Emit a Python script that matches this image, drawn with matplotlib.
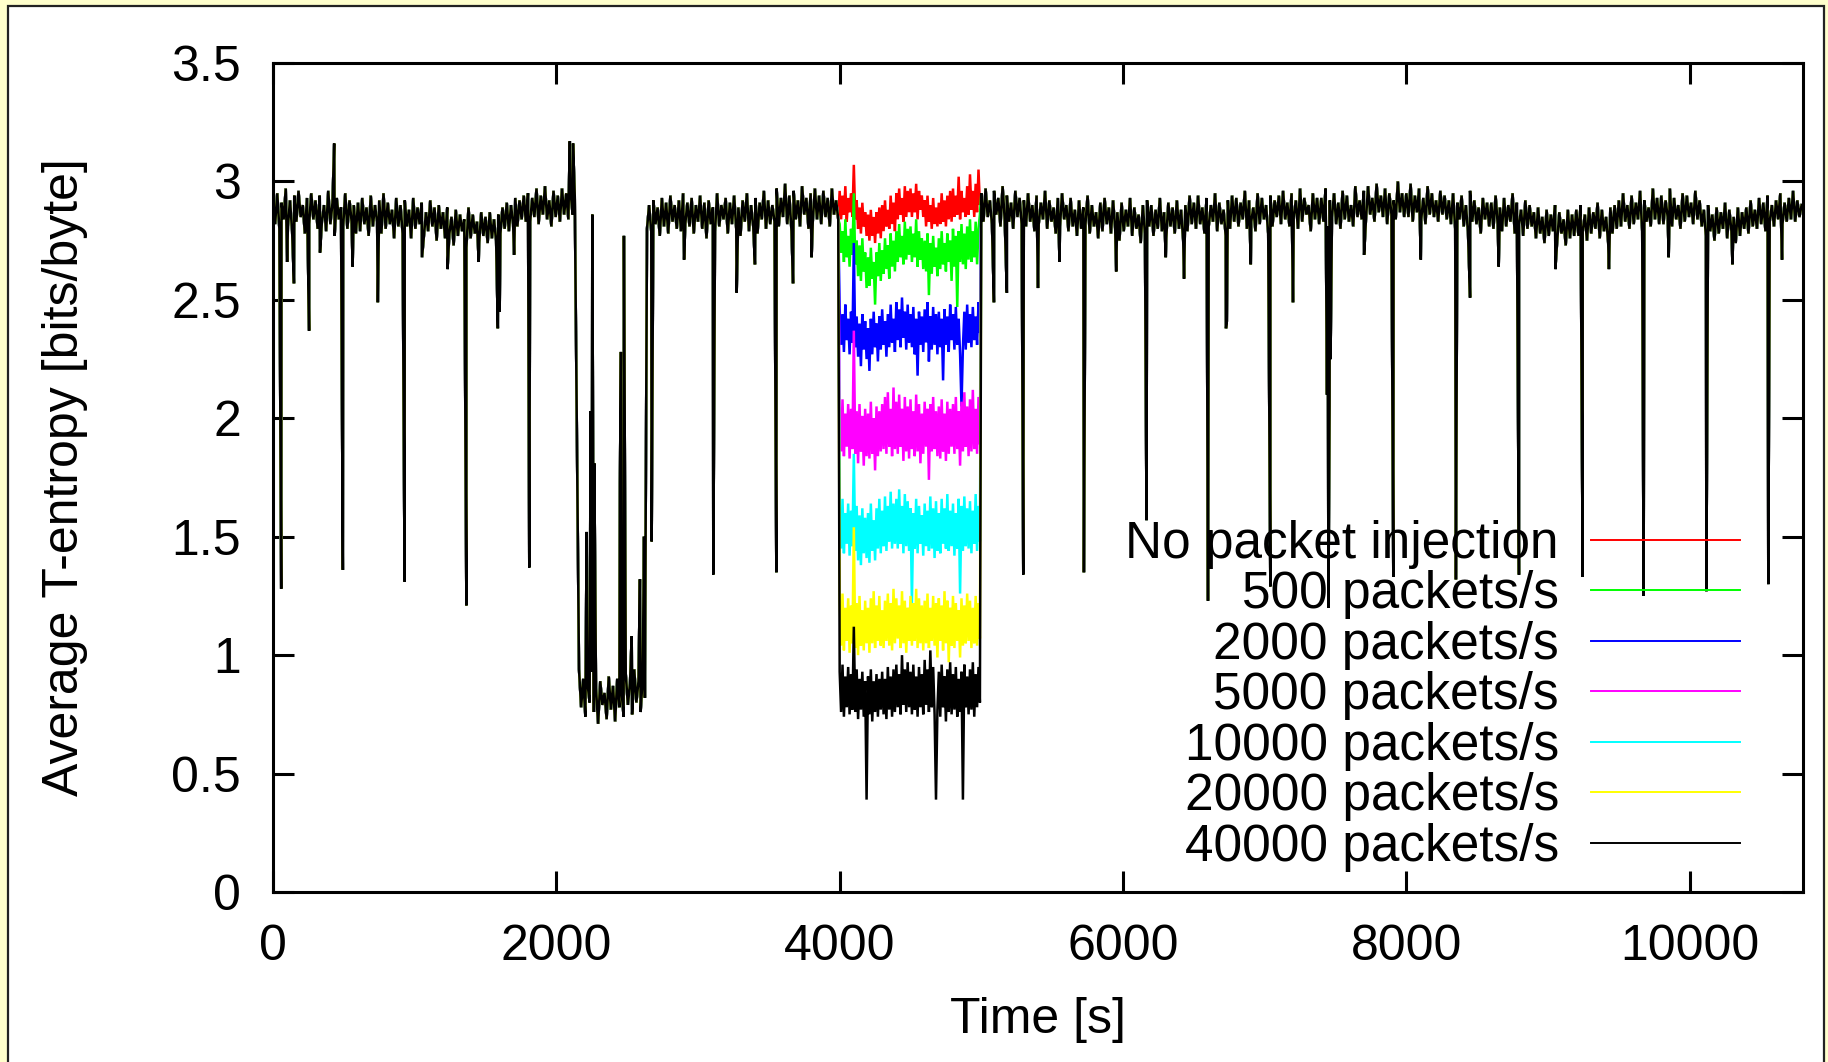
import matplotlib
matplotlib.use("Agg")
import matplotlib.pyplot as plt
from matplotlib.patches import Rectangle
import matplotlib.transforms as mtransforms

plt.rcParams['font.family'] = ['Liberation Sans', 'DejaVu Sans']

# ---------------- data ----------------
# shared trace (all series coincide outside the injection window), one value every 15 s
seg_a_start, seg_a_step = 0, 15          # normal traffic 0 .. 2130 s
seg_a = [2.93, 2.82, 2.95, 2.80, 2.91, 2.84, 2.97, 2.81, 2.92, 2.79, 2.94, 2.83, 2.96, 2.85, 2.90, 2.78, 2.93, 2.82, 2.95, 2.84,
         2.92, 2.80, 2.94, 2.83, 2.90, 2.79, 2.96, 2.82, 2.91, 2.77, 2.93, 2.84, 2.89, 2.81, 2.95, 2.80, 2.92, 2.83, 2.90, 2.78,
         2.91, 2.79, 2.93, 2.82, 2.89, 2.77, 2.94, 2.81, 2.90, 2.83, 2.92, 2.78, 2.95, 2.80, 2.91, 2.82, 2.88, 2.76, 2.93, 2.81,
         2.90, 2.78, 2.92, 2.81, 2.88, 2.76, 2.93, 2.80, 2.89, 2.82, 2.91, 2.77, 2.87, 2.79, 2.92, 2.81, 2.89, 2.75, 2.90, 2.80,
         2.87, 2.76, 2.89, 2.78, 2.85, 2.73, 2.88, 2.77, 2.86, 2.79, 2.84, 2.72, 2.89, 2.76, 2.86, 2.78, 2.83, 2.74, 2.87, 2.77,
         2.85, 2.74, 2.87, 2.76, 2.84, 2.75, 2.86, 2.78, 2.89, 2.80, 2.91, 2.79, 2.90, 2.82, 2.93, 2.81, 2.92, 2.84, 2.94, 2.83,
         2.95, 2.83, 2.93, 2.85, 2.97, 2.82, 2.94, 2.86, 2.98, 2.84, 2.92, 2.81, 2.96, 2.85, 2.94, 2.83, 2.97, 2.86, 2.95, 2.84,
         2.96, 2.86, 2.94]
seg_b_start, seg_b_step = 2160, 15       # low-entropy episode 2160 .. 2625 s
seg_b = [0.94, 0.78, 0.90, 0.74, 0.88, 0.80, 0.93, 0.76, 0.86, 0.71, 0.89, 0.79, 0.84, 0.73, 0.91, 0.77,
         0.87, 0.72, 0.90, 0.78, 0.85, 0.74, 0.92, 0.79, 0.88, 0.75, 0.94, 0.80, 0.89, 0.76, 0.91, 0.82]
seg_c_start, seg_c_step = 2640, 15       # normal traffic 2640 .. 3990 s
seg_c = [2.80, 2.90, 2.79, 2.92, 2.82, 2.89, 2.77, 2.93, 2.81, 2.91, 2.78, 2.94, 2.83, 2.90, 2.80, 2.92, 2.79, 2.95, 2.82, 2.91,
         2.81, 2.93, 2.78, 2.90, 2.83, 2.94, 2.80, 2.91, 2.76, 2.92, 2.82, 2.89, 2.79, 2.95, 2.81, 2.90, 2.84, 2.93, 2.78, 2.91,
         2.82, 2.94, 2.80, 2.89, 2.77, 2.92, 2.83, 2.95, 2.79, 2.90, 2.81, 2.93, 2.78, 2.91, 2.84, 2.96, 2.80, 2.92, 2.82, 2.90,
         2.83, 2.97, 2.81, 2.93, 2.85, 2.99, 2.82, 2.94, 2.79, 2.96, 2.84, 2.92, 2.81, 2.98, 2.86, 2.93, 2.80, 2.95, 2.83, 2.97,
         2.84, 2.94, 2.82, 2.96, 2.85, 2.93, 2.81, 2.97, 2.86, 2.92, 2.84]
seg_d_start, seg_d_step = 5000, 15       # normal traffic 5000 .. 10790 s
seg_d = [2.95, 2.83, 2.97, 2.85, 2.92, 2.82, 2.96, 2.86, 2.93, 2.81, 2.98, 2.84, 2.94, 2.83, 2.91, 2.80, 2.96, 2.85, 2.93, 2.82,
         2.92, 2.81, 2.95, 2.83, 2.90, 2.79, 2.94, 2.82, 2.91, 2.84, 2.96, 2.80, 2.92, 2.83, 2.89, 2.78, 2.93, 2.81, 2.95, 2.84,
         2.90, 2.79, 2.93, 2.81, 2.88, 2.77, 2.92, 2.80, 2.89, 2.82, 2.94, 2.78, 2.90, 2.81, 2.87, 2.76, 2.91, 2.79, 2.93, 2.82,
         2.89, 2.78, 2.92, 2.80, 2.87, 2.75, 2.91, 2.79, 2.88, 2.81, 2.93, 2.77, 2.89, 2.80, 2.86, 2.74, 2.90, 2.78, 2.92, 2.81,
         2.90, 2.77, 2.88, 2.80, 2.93, 2.79, 2.87, 2.76, 2.91, 2.81, 2.89, 2.78, 2.92, 2.80, 2.88, 2.75, 2.90, 2.79, 2.94, 2.82,
         2.91, 2.80, 2.94, 2.82, 2.89, 2.78, 2.93, 2.81, 2.90, 2.83, 2.95, 2.79, 2.91, 2.82, 2.88, 2.77, 2.92, 2.80, 2.94, 2.83,
         2.93, 2.81, 2.91, 2.84, 2.96, 2.80, 2.92, 2.83, 2.89, 2.79, 2.95, 2.82, 2.93, 2.84, 2.90, 2.78, 2.94, 2.81, 2.92, 2.85,
         2.94, 2.82, 2.96, 2.84, 2.91, 2.81, 2.95, 2.85, 2.92, 2.80, 2.97, 2.83, 2.93, 2.86, 2.90, 2.79, 2.95, 2.84, 2.93, 2.82,
         2.93, 2.83, 2.97, 2.81, 2.92, 2.85, 2.95, 2.82, 2.91, 2.80, 2.96, 2.84, 2.94, 2.83, 2.90, 2.81, 2.98, 2.85, 2.92, 2.84,
         2.96, 2.84, 2.98, 2.86, 2.93, 2.83, 2.99, 2.87, 2.94, 2.85, 2.97, 2.82, 2.95, 2.86, 2.92, 2.84, 3.00, 2.87, 2.95, 2.85,
         2.95, 2.85, 2.99, 2.83, 2.94, 2.87, 2.97, 2.84, 2.93, 2.82, 2.98, 2.86, 2.95, 2.85, 2.92, 2.83, 2.96, 2.86, 2.94, 2.84,
         2.92, 2.82, 2.95, 2.80, 2.91, 2.84, 2.94, 2.81, 2.90, 2.79, 2.96, 2.83, 2.92, 2.82, 2.89, 2.78, 2.93, 2.84, 2.91, 2.81,
         2.91, 2.80, 2.94, 2.82, 2.89, 2.79, 2.93, 2.81, 2.90, 2.83, 2.95, 2.78, 2.91, 2.82, 2.88, 2.77, 2.92, 2.80, 2.90, 2.81,
         2.87, 2.76, 2.89, 2.78, 2.85, 2.74, 2.88, 2.77, 2.86, 2.79, 2.90, 2.75, 2.87, 2.78, 2.84, 2.73, 2.88, 2.76, 2.86, 2.77,
         2.88, 2.77, 2.90, 2.79, 2.86, 2.75, 2.89, 2.78, 2.87, 2.80, 2.91, 2.76, 2.88, 2.79, 2.85, 2.74, 2.89, 2.78, 2.90, 2.80,
         2.92, 2.81, 2.95, 2.83, 2.90, 2.80, 2.94, 2.82, 2.91, 2.84, 2.96, 2.79, 2.92, 2.83, 2.89, 2.81, 2.97, 2.84, 2.93, 2.82,
         2.94, 2.82, 2.92, 2.85, 2.97, 2.81, 2.93, 2.84, 2.90, 2.80, 2.95, 2.83, 2.94, 2.85, 2.91, 2.82, 2.96, 2.84, 2.92, 2.81,
         2.88, 2.77, 2.90, 2.79, 2.86, 2.75, 2.89, 2.78, 2.87, 2.80, 2.91, 2.76, 2.88, 2.79, 2.85, 2.74, 2.89, 2.77, 2.87, 2.80,
         2.89, 2.78, 2.92, 2.81, 2.88, 2.80, 2.93, 2.82, 2.91, 2.79, 2.94, 2.83, 2.90, 2.81, 2.92, 2.84, 2.95, 2.82, 2.91, 2.83,
         2.93, 2.84, 2.96, 2.83, 2.92, 2.85, 2.90]
# isolated spikes of the shared trace
spike_t = [58, 100, 148, 255, 332, 432, 493, 562, 740, 929, 1052, 1232, 1365, 1452, 1587, 1600,
           1702, 1809, 2095, 2118,
           2214, 2242, 2254, 2268, 2449, 2456, 2477, 2532, 2590, 2619,
           2673, 2902, 3108, 3273, 3402, 3553, 3671, 3802,
           5089, 5180, 5296, 5400, 5552, 5724, 5952, 6166, 6302, 6431, 6600, 6727, 6733, 6902,
           7040, 7200, 7440, 7450, 7458, 7465, 7702, 7908, 8102, 8350, 8450, 8652, 8795,
           9052, 9245, 9430, 9675, 9852, 10118, 10302, 10555, 10652]
spike_v = [1.28, 2.66, 2.57, 2.37, 2.70, 3.16, 1.36, 2.64, 2.49, 1.31, 2.68, 2.63, 1.21, 2.66, 2.38, 2.45,
           2.69, 1.37, 3.17, 3.16,
           1.52, 2.03, 2.86, 1.81, 1.73, 2.28, 2.77, 1.08, 1.32, 1.50,
           1.48, 2.67, 1.34, 2.53, 2.65, 1.35, 2.57, 2.68,
           2.49, 2.53, 1.34, 2.55, 2.66, 1.35, 2.62, 1.57, 2.68, 2.59, 1.23, 2.38, 2.41, 2.65,
           1.29, 2.49, 2.10, 1.20, 2.05, 2.25, 2.69, 1.33, 2.67, 1.32, 2.51, 2.64, 1.34,
           2.63, 1.33, 2.63, 1.25, 2.68, 1.27, 2.65, 1.30, 2.67]

# injection window 4000 .. 4990 s, one value every 10 s
inj_start, inj_step = 4000, 10
inj_none = [2.96, 2.84, 2.94, 2.86, 2.98, 2.83, 2.93, 2.87, 2.95, 2.85,
            3.07, 2.84, 2.92, 2.80, 2.89, 2.78, 2.91, 2.81, 2.87, 2.77,
            2.86, 2.75, 2.88, 2.77, 2.85, 2.74, 2.87, 2.78, 2.89, 2.76,
            2.90, 2.79, 2.92, 2.81, 2.88, 2.80, 2.94, 2.82, 2.91, 2.79,
            2.95, 2.84, 2.97, 2.86, 2.93, 2.83, 2.98, 2.85, 2.96, 2.87,
            2.97, 2.85, 2.95, 2.87, 2.99, 2.84, 2.96, 2.88, 2.94, 2.85,
            2.92, 2.81, 2.94, 2.83, 2.90, 2.80, 2.93, 2.82, 2.89, 2.81,
            2.91, 2.82, 2.95, 2.83, 2.92, 2.81, 2.94, 2.84, 2.96, 2.83,
            2.97, 2.85, 2.94, 2.86, 3.02, 2.84, 2.96, 2.87, 2.93, 2.85,
            2.98, 2.86, 3.03, 2.88, 2.96, 2.85, 2.99, 2.87, 3.05, 2.90]
inj_500 = [2.82, 2.70, 2.79, 2.66, 2.84, 2.68, 2.77, 2.64, 2.80, 2.69,
           2.95, 2.65, 2.75, 2.60, 2.73, 2.58, 2.76, 2.62, 2.70, 2.55,
           2.68, 2.56, 2.72, 2.59, 2.66, 2.48, 2.70, 2.60, 2.74, 2.58,
           2.71, 2.61, 2.76, 2.63, 2.73, 2.59, 2.78, 2.64, 2.75, 2.62,
           2.79, 2.66, 2.82, 2.68, 2.77, 2.65, 2.83, 2.67, 2.80, 2.69,
           2.81, 2.66, 2.78, 2.68, 2.84, 2.64, 2.79, 2.67, 2.76, 2.63,
           2.75, 2.62, 2.78, 2.52, 2.74, 2.61, 2.77, 2.64, 2.72, 2.60,
           2.76, 2.63, 2.79, 2.65, 2.74, 2.62, 2.78, 2.66, 2.75, 2.58,
           2.80, 2.64, 2.77, 2.47, 2.79, 2.66, 2.82, 2.65, 2.78, 2.63,
           2.81, 2.67, 2.84, 2.66, 2.79, 2.68, 2.83, 2.65, 2.80, 2.86]
inj_2000 = [2.46, 2.31, 2.44, 2.28, 2.48, 2.33, 2.42, 2.27, 2.45, 2.32,
            2.74, 2.30, 2.43, 2.26, 2.40, 2.22, 2.44, 2.29, 2.41, 2.25,
            2.38, 2.20, 2.42, 2.27, 2.45, 2.30, 2.40, 2.24, 2.43, 2.29,
            2.46, 2.31, 2.41, 2.26, 2.44, 2.30, 2.48, 2.32, 2.42, 2.28,
            2.49, 2.33, 2.46, 2.30, 2.51, 2.34, 2.45, 2.29, 2.48, 2.32,
            2.44, 2.30, 2.47, 2.27, 2.42, 2.18, 2.45, 2.31, 2.43, 2.28,
            2.46, 2.32, 2.49, 2.24, 2.43, 2.29, 2.47, 2.31, 2.44, 2.27,
            2.45, 2.30, 2.42, 2.16, 2.46, 2.31, 2.43, 2.28, 2.48, 2.33,
            2.44, 2.29, 2.47, 2.31, 2.42, 2.27, 2.05, 2.30, 2.45, 2.29,
            2.48, 2.32, 2.44, 2.30, 2.47, 2.33, 2.43, 2.31, 2.49, 2.36]
inj_5000 = [2.05, 1.86, 2.08, 1.84, 2.02, 1.88, 2.06, 1.83, 2.04, 1.87,
            2.37, 1.85, 2.03, 1.81, 2.06, 1.86, 2.01, 1.80, 2.04, 1.84,
            2.02, 1.83, 2.07, 1.85, 2.00, 1.78, 2.05, 1.84, 2.03, 1.86,
            2.06, 1.87, 2.09, 1.85, 2.11, 1.88, 2.04, 1.84, 2.13, 1.87,
            2.07, 1.85, 2.10, 1.88, 2.04, 1.82, 2.09, 1.86, 2.05, 1.83,
            2.08, 1.87, 2.03, 1.84, 2.10, 1.86, 2.06, 1.81, 2.02, 1.85,
            2.07, 1.88, 2.04, 1.74, 2.06, 1.86, 2.09, 1.87, 2.03, 1.84,
            2.05, 1.83, 2.08, 1.86, 2.02, 1.82, 2.07, 1.85, 2.04, 1.88,
            2.06, 1.85, 2.09, 1.87, 2.03, 1.80, 2.07, 1.86, 2.11, 1.88,
            2.05, 1.84, 2.08, 1.86, 2.12, 1.87, 2.04, 1.85, 2.09, 1.89]
inj_10000 = [1.63, 1.45, 1.66, 1.43, 1.60, 1.47, 1.64, 1.42, 1.61, 1.46,
             1.85, 1.44, 1.63, 1.40, 1.59, 1.38, 1.62, 1.43, 1.58, 1.41,
             1.60, 1.39, 1.64, 1.44, 1.57, 1.40, 1.62, 1.45, 1.66, 1.43,
             1.61, 1.46, 1.67, 1.44, 1.63, 1.48, 1.69, 1.45, 1.64, 1.47,
             1.66, 1.45, 1.70, 1.47, 1.63, 1.43, 1.68, 1.46, 1.65, 1.44,
             1.62, 1.22, 1.60, 1.45, 1.66, 1.43, 1.63, 1.47, 1.59, 1.42,
             1.64, 1.46, 1.61, 1.44, 1.67, 1.45, 1.62, 1.41, 1.65, 1.44,
             1.60, 1.43, 1.66, 1.47, 1.62, 1.45, 1.68, 1.44, 1.61, 1.46,
             1.64, 1.42, 1.60, 1.45, 1.66, 1.26, 1.63, 1.44, 1.67, 1.46,
             1.62, 1.45, 1.65, 1.43, 1.61, 1.47, 1.68, 1.44, 1.63, 1.48]
inj_20000 = [1.23, 1.04, 1.26, 1.02, 1.20, 1.06, 1.24, 1.01, 1.21, 1.05,
             1.54, 1.03, 1.22, 1.00, 1.25, 1.04, 1.19, 1.02, 1.23, 1.05,
             1.20, 1.01, 1.24, 1.05, 1.27, 1.03, 1.21, 1.06, 1.25, 1.04,
             1.19, 1.03, 1.23, 1.06, 1.26, 1.04, 1.22, 1.02, 1.28, 1.05,
             1.24, 1.07, 1.21, 1.03, 1.27, 1.05, 1.23, 1.01, 1.20, 1.06,
             1.25, 1.04, 1.22, 1.06, 1.28, 1.03, 1.24, 1.05, 1.21, 1.02,
             1.23, 1.05, 1.26, 1.03, 1.20, 1.06, 1.25, 1.04, 1.22, 0.99,
             1.24, 1.06, 1.21, 1.02, 1.27, 1.05, 1.23, 0.97, 1.20, 1.04,
             1.25, 1.03, 1.22, 1.06, 1.19, 0.99, 1.24, 1.04, 1.21, 1.05,
             1.26, 1.06, 1.23, 1.03, 1.20, 1.05, 1.25, 1.04, 1.22, 1.07]
inj_40000 = [0.93, 0.76, 0.96, 0.74, 0.91, 0.78, 0.95, 0.75, 0.92, 0.77,
             1.12, 0.76, 0.94, 0.73, 0.90, 0.77, 0.93, 0.74, 0.89, 0.39,
             0.91, 0.75, 0.94, 0.72, 0.89, 0.76, 0.92, 0.74, 0.90, 0.77,
             0.93, 0.75, 0.90, 0.73, 0.95, 0.77, 0.91, 0.74, 0.94, 0.76,
             0.96, 0.78, 0.92, 0.75, 1.00, 0.79, 0.94, 0.76, 0.97, 0.78,
             0.93, 0.75, 0.96, 0.77, 0.91, 0.74, 0.95, 0.78, 0.92, 0.75,
             0.98, 0.79, 0.94, 0.76, 1.02, 0.78, 0.95, 0.75, 0.39, 0.77,
             0.93, 0.74, 0.96, 0.78, 0.91, 0.72, 0.94, 0.76, 0.97, 0.75,
             0.92, 0.77, 0.95, 0.74, 0.90, 0.76, 0.93, 0.39, 0.96, 0.78,
             0.91, 0.75, 0.94, 0.77, 0.97, 0.74, 0.92, 0.78, 0.95, 0.80]

series_labels = ["No packet injection", "500 packets/s", "2000 packets/s", "5000 packets/s",
                 "10000 packets/s", "20000 packets/s", "40000 packets/s"]
series_inj = [inj_none, inj_500, inj_2000, inj_5000, inj_10000, inj_20000, inj_40000]
series_colors = ["#ff0000", "#00ff00", "#0000ff", "#ff00ff", "#00ffff", "#ffff00", "#000000"]

xticks = [0, 2000, 4000, 6000, 8000, 10000]
xtick_labels = ["0", "2000", "4000", "6000", "8000", "10000"]
yticks = [0, 0.5, 1, 1.5, 2, 2.5, 3, 3.5]
ytick_labels = ["0", "0.5", "1", "1.5", "2", "2.5", "3", "3.5"]


def seg(start, step, vals):
    return [(start + step * i, v) for i, v in enumerate(vals)]


base = (seg(seg_a_start, seg_a_step, seg_a) + seg(seg_b_start, seg_b_step, seg_b)
        + seg(seg_c_start, seg_c_step, seg_c) + seg(seg_d_start, seg_d_step, seg_d)
        + list(zip(spike_t, spike_v)))
base.sort()
pre = [p for p in base if p[0] < inj_start]
post = [p for p in base if p[0] >= 4995]

# ---------------- figure ----------------
W, H = 1828, 1062
fig = plt.figure(figsize=(W / 100, H / 100), dpi=100, facecolor="#ffffcc")
fig.patches.append(Rectangle((8 / W, -0.05), (1824 - 8) / W, 1.05 - 6 / H,
                             transform=fig.transFigure, facecolor="white",
                             edgecolor="#222222", linewidth=1.6, zorder=-10))

L, R, T, B = 273, 1803, 63, 892
ax = fig.add_axes([L / W, 1 - B / H, (R - L) / W, (B - T) / H])
ax.set_facecolor("white")

for i, (lab, vals, col) in enumerate(zip(series_labels, series_inj, series_colors)):
    pts = pre + seg(inj_start, inj_step, vals) + post
    xs = [p[0] for p in pts]
    ys = [p[1] for p in pts]
    ax.plot(xs, ys, color=col, lw=1.8, zorder=2 + i, solid_joinstyle="miter")

ax.set_xlim(0, 10800)
ax.set_ylim(0, 3.5)
ax.set_xticks(xticks)
ax.set_xticklabels(xtick_labels)
ax.set_yticks(yticks)
ax.set_yticklabels(ytick_labels)
ax.tick_params(direction="in", length=15, width=2.2, labelsize=36, pad=23,
               top=True, right=True, colors="black")
for s in ax.spines.values():
    s.set_linewidth(2.2)
    s.set_zorder(20)

ax.set_xlabel("Time [s]", fontsize=36)
ax.set_ylabel("Average T-entropy [bits/byte]", fontsize=36)
ax.xaxis.set_label_coords(0.5, -0.1267)
ax.yaxis.set_label_coords(-0.121, 0.5)

# gnuplot-style key: text right-aligned, sample line to its right
row_y0 = 0.4246
row_dy = 0.0609
off = mtransforms.ScaledTranslation(0, -18 / 100, fig.dpi_scale_trans)
for i, (lab, col) in enumerate(zip(series_labels, series_colors)):
    y = row_y0 - i * row_dy
    ax.plot([0.8614, 0.9588], [y, y], transform=ax.transAxes, color=col, lw=1.4,
            zorder=30, clip_on=False)
    ax.text(0.8405, y, lab, transform=ax.transAxes + off, ha="right", va="baseline",
            fontsize=37, zorder=30)

fig.savefig("out.png", dpi=100, facecolor=fig.get_facecolor())
